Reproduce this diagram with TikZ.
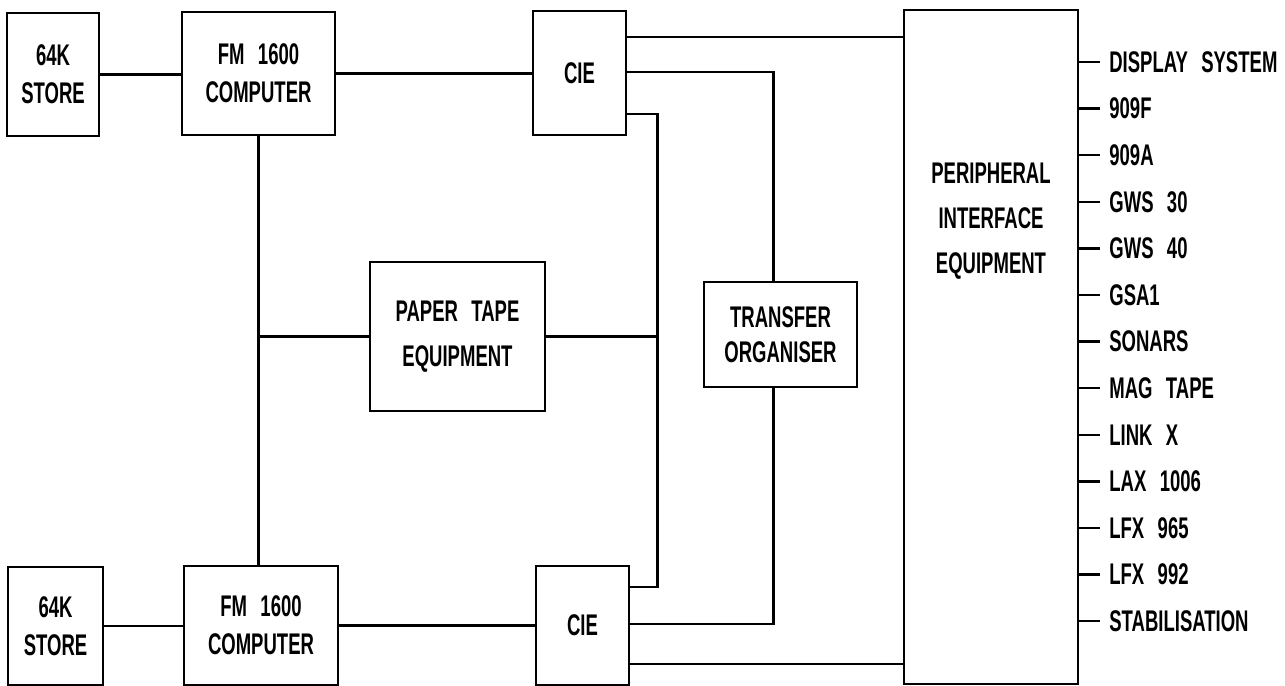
\documentclass[tikz,border=0pt]{standalone}
\usepackage{fontspec}
\setmainfont{Liberation Sans}[FakeStretch=0.62,WordSpace=2.6]
\usepackage{tikz}
\usetikzlibrary{positioning,calc}

\begin{document}
\begin{tikzpicture}[
  x=0.02cm,y=-0.02cm,
  unit/.style={draw=black,line width=1.1pt,align=center,inner sep=0pt,
    font=\bfseries\fontsize{17}{21.5}\selectfont},
  txt/.style={align=center,inner sep=0pt,font=\bfseries\fontsize{17}{25.5}\selectfont},
  link/.style={line width=1.7pt},
  stub/.style={line width=1.4pt},
  outlbl/.style={anchor=west,inner sep=0pt,font=\bfseries\fontsize{17}{18}\selectfont},
]
  \useasboundingbox (0,0) rectangle (1285,686);
  % stores and computers
  \node[unit,minimum width=1.84cm,minimum height=2.46cm] (storeA) at (53,74.5) {64K\\STORE};
  \node[unit,minimum width=3.06cm,minimum height=2.46cm] (compA) at (258.5,73.5) {FM 1600\\COMPUTER};
  \node[unit,minimum width=1.90cm,minimum height=2.36cm] (storeB) at (55.5,626) {64K\\STORE};
  \node[unit,minimum width=3.08cm,minimum height=2.38cm] (compB) at (261,625.5) {FM 1600\\COMPUTER};
  % channel interface units
  \node[unit,minimum width=1.86cm,minimum height=2.48cm] (cieA) at (579.5,73) {CIE};
  \node[unit,minimum width=1.86cm,minimum height=2.38cm] (cieB) at (582.5,625.5) {CIE};
  % middle units
  \node[unit,minimum width=3.50cm,minimum height=2.98cm,font=\bfseries\fontsize{17}{25.5}\selectfont] (tape) at (457.5,336.5) {PAPER TAPE\\EQUIPMENT};
  \node[unit,minimum width=3.06cm,minimum height=2.10cm,font=\bfseries\fontsize{17}{20}\selectfont] (xfer) at (780.5,334.5) {TRANSFER\\ORGANISER};
  \node[unit,minimum width=3.48cm,minimum height=13.48cm] (pie) at (991,347) {};
  \node[txt] (pietxt) at (991,221) {PERIPHERAL\\INTERFACE\\EQUIPMENT};

  % bends and buses
  \coordinate (pTop) at (657,114);
  \coordinate (pBot) at (657,587);
  \coordinate (tTop) at (773,72);
  \coordinate (tBot) at (773,624);
  \coordinate (eTop) at (0,37);
  \coordinate (eBot) at (0,664);

  \draw[link] (storeA.east) -- (storeA.east -| compA.west);
  \draw[link] (storeB.east) -- (storeB.east -| compB.west);
  \draw[link] (compA.east) -- (compA.east -| cieA.west);
  \draw[link] (compB.east) -- (compB.east -| cieB.west);
  \draw[link] (compA.south) -- (compA.south |- compB.north);
  \draw[link] (tape.west) -- (tape.west -| compA.south);
  \draw[link] (tape.east) -- (tape.east -| pTop);
  \draw[link] (cieA.east |- pTop) -- (pTop) -- (pBot) -- (cieB.east |- pBot);
  \draw[link] (cieA.east |- tTop) -- (tTop) -- (xfer.north -| tTop);
  \draw[link] (xfer.south -| tTop) -- (tBot) -- (cieB.east |- tBot);
  \draw[link] (cieA.east |- eTop) -- (pie.west |- eTop);
  \draw[link] (cieB.east |- eBot) -- (pie.west |- eBot);

  % outputs of the peripheral interface
  \foreach \t [count=\i from 0] in {DISPLAY SYSTEM,909F,909A,GWS 30,GWS 40,GSA1,SONARS,MAG TAPE,LINK X,LAX 1006,LFX 965,LFX 992,STABILISATION} {
    \node[outlbl] (out\i) at (1109,62+46.6*\i) {\t};
    \draw[stub] (pie.east |- out\i.west) -- ([xshift=-0.18cm]out\i.west);
  }
\end{tikzpicture}
\end{document}
